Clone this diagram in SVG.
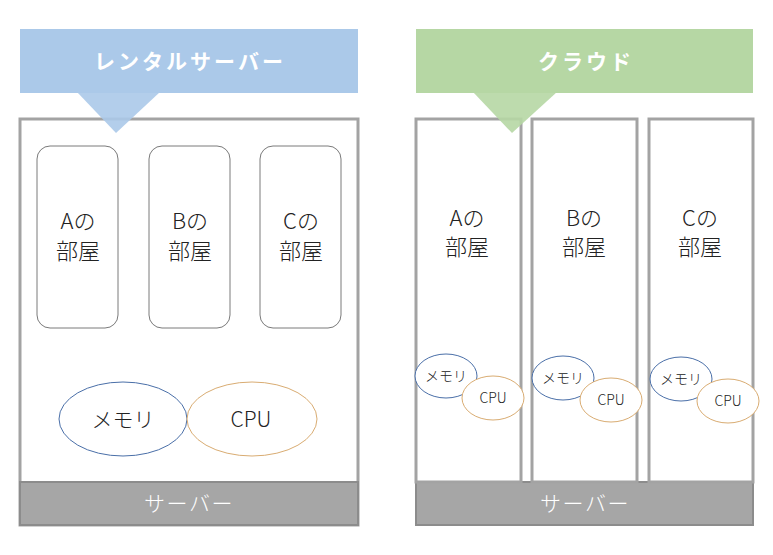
<svg xmlns="http://www.w3.org/2000/svg" width="773" height="555" viewBox="0 0 773 555">
<style>
.frame{fill:#fff;stroke:#a3a3a3;stroke-width:3}
.room{fill:#fff;stroke:#7a7a7a;stroke-width:1}
.bar{fill:#a6a6a6;stroke:#8c8c8c;stroke-width:2}
.mem{fill:#fff;stroke:#4a6fa8;stroke-width:1}
.cpu{fill:#fff;stroke:#d9ac72;stroke-width:1}
.t{font-family:"Noto Sans CJK JP","Noto Sans",sans-serif;fill:#222;text-anchor:middle;dominant-baseline:central}
.big{font-size:22px;font-weight:300}
.mid{font-size:21px;font-weight:300}
.sm{font-size:14px;font-weight:300}
.head{font-family:"Noto Sans CJK JP","Noto Sans",sans-serif;fill:#fff;font-size:21px;font-weight:700;text-anchor:middle;dominant-baseline:central;letter-spacing:3px}
.srv{font-family:"Noto Sans CJK JP","Noto Sans",sans-serif;fill:#fff;font-size:21px;font-weight:300;text-anchor:middle;dominant-baseline:central;letter-spacing:1.5px}
</style>

<g id="rental">
  <rect class="frame" x="20" y="119" width="338" height="406"/>
  <rect class="bar" x="20" y="482" width="338" height="43"/>
  <text class="srv" x="189" y="502">サーバー</text>
  <g id="banner-rental">
    <rect x="20" y="29" width="338" height="64" fill="#abc9e9"/>
    <polygon points="77,92 160,92 116,133" fill="#abc9e9" fill-opacity="0.9"/>
    <text class="head" x="190" y="60">レンタルサーバー</text>
  </g>
  <g id="roomA-rental">
    <rect class="room" x="37" y="146" width="81" height="182" rx="13"/>
    <text class="t big" x="78" y="219">Aの</text>
    <text class="t big" x="78" y="249">部屋</text>
  </g>
  <g id="roomB-rental">
    <rect class="room" x="149" y="146" width="81" height="182" rx="13"/>
    <text class="t big" x="190" y="219">Bの</text>
    <text class="t big" x="190" y="249">部屋</text>
  </g>
  <g id="roomC-rental">
    <rect class="room" x="260" y="146" width="81" height="182" rx="13"/>
    <text class="t big" x="301" y="219">Cの</text>
    <text class="t big" x="301" y="249">部屋</text>
  </g>
  <g id="mem-rental">
    <ellipse class="mem" cx="123" cy="419" rx="64" ry="37"/>
    <text class="t mid" x="123" y="418">メモリ</text>
  </g>
  <g id="cpu-rental">
    <ellipse class="cpu" cx="252" cy="419" rx="65" ry="37"/>
    <text class="t mid" x="251" y="418">CPU</text>
  </g>
</g>

<g id="cloud">
  <rect class="bar" x="416" y="482" width="337" height="43"/>
  <text class="srv" x="585" y="502">サーバー</text>
  <g id="colA">
    <rect class="frame" x="416" y="119" width="105" height="363"/>
    <text class="t big" x="467" y="216">Aの</text>
    <text class="t big" x="467" y="245">部屋</text>
    <ellipse class="mem" cx="446" cy="376" rx="31" ry="22"/>
    <text class="t sm" x="446" y="375">メモリ</text>
    <ellipse class="cpu" cx="493" cy="398" rx="31" ry="22"/>
    <text class="t sm" x="493" y="397">CPU</text>
  </g>
  <g id="colB">
    <rect class="frame" x="532" y="119" width="105" height="363"/>
    <text class="t big" x="584" y="216">Bの</text>
    <text class="t big" x="584" y="245">部屋</text>
    <ellipse class="mem" cx="563" cy="378" rx="31" ry="22"/>
    <text class="t sm" x="563" y="377">メモリ</text>
    <ellipse class="cpu" cx="611" cy="400" rx="31" ry="22"/>
    <text class="t sm" x="611" y="399">CPU</text>
  </g>
  <g id="colC">
    <rect class="frame" x="649" y="119" width="104" height="363"/>
    <text class="t big" x="700" y="216">Cの</text>
    <text class="t big" x="700" y="245">部屋</text>
    <ellipse class="mem" cx="681" cy="379" rx="31" ry="22"/>
    <text class="t sm" x="681" y="378">メモリ</text>
    <ellipse class="cpu" cx="728" cy="401" rx="31" ry="22"/>
    <text class="t sm" x="728" y="400">CPU</text>
  </g>
  <g id="banner-cloud">
    <rect x="416" y="29" width="337" height="64" fill="#b6d7a4"/>
    <polygon points="473,92 557,92 512,133" fill="#b6d7a4" fill-opacity="0.9"/>
    <text class="head" x="586" y="60">クラウド</text>
  </g>
</g>
<g id="connectors"/>
</svg>
